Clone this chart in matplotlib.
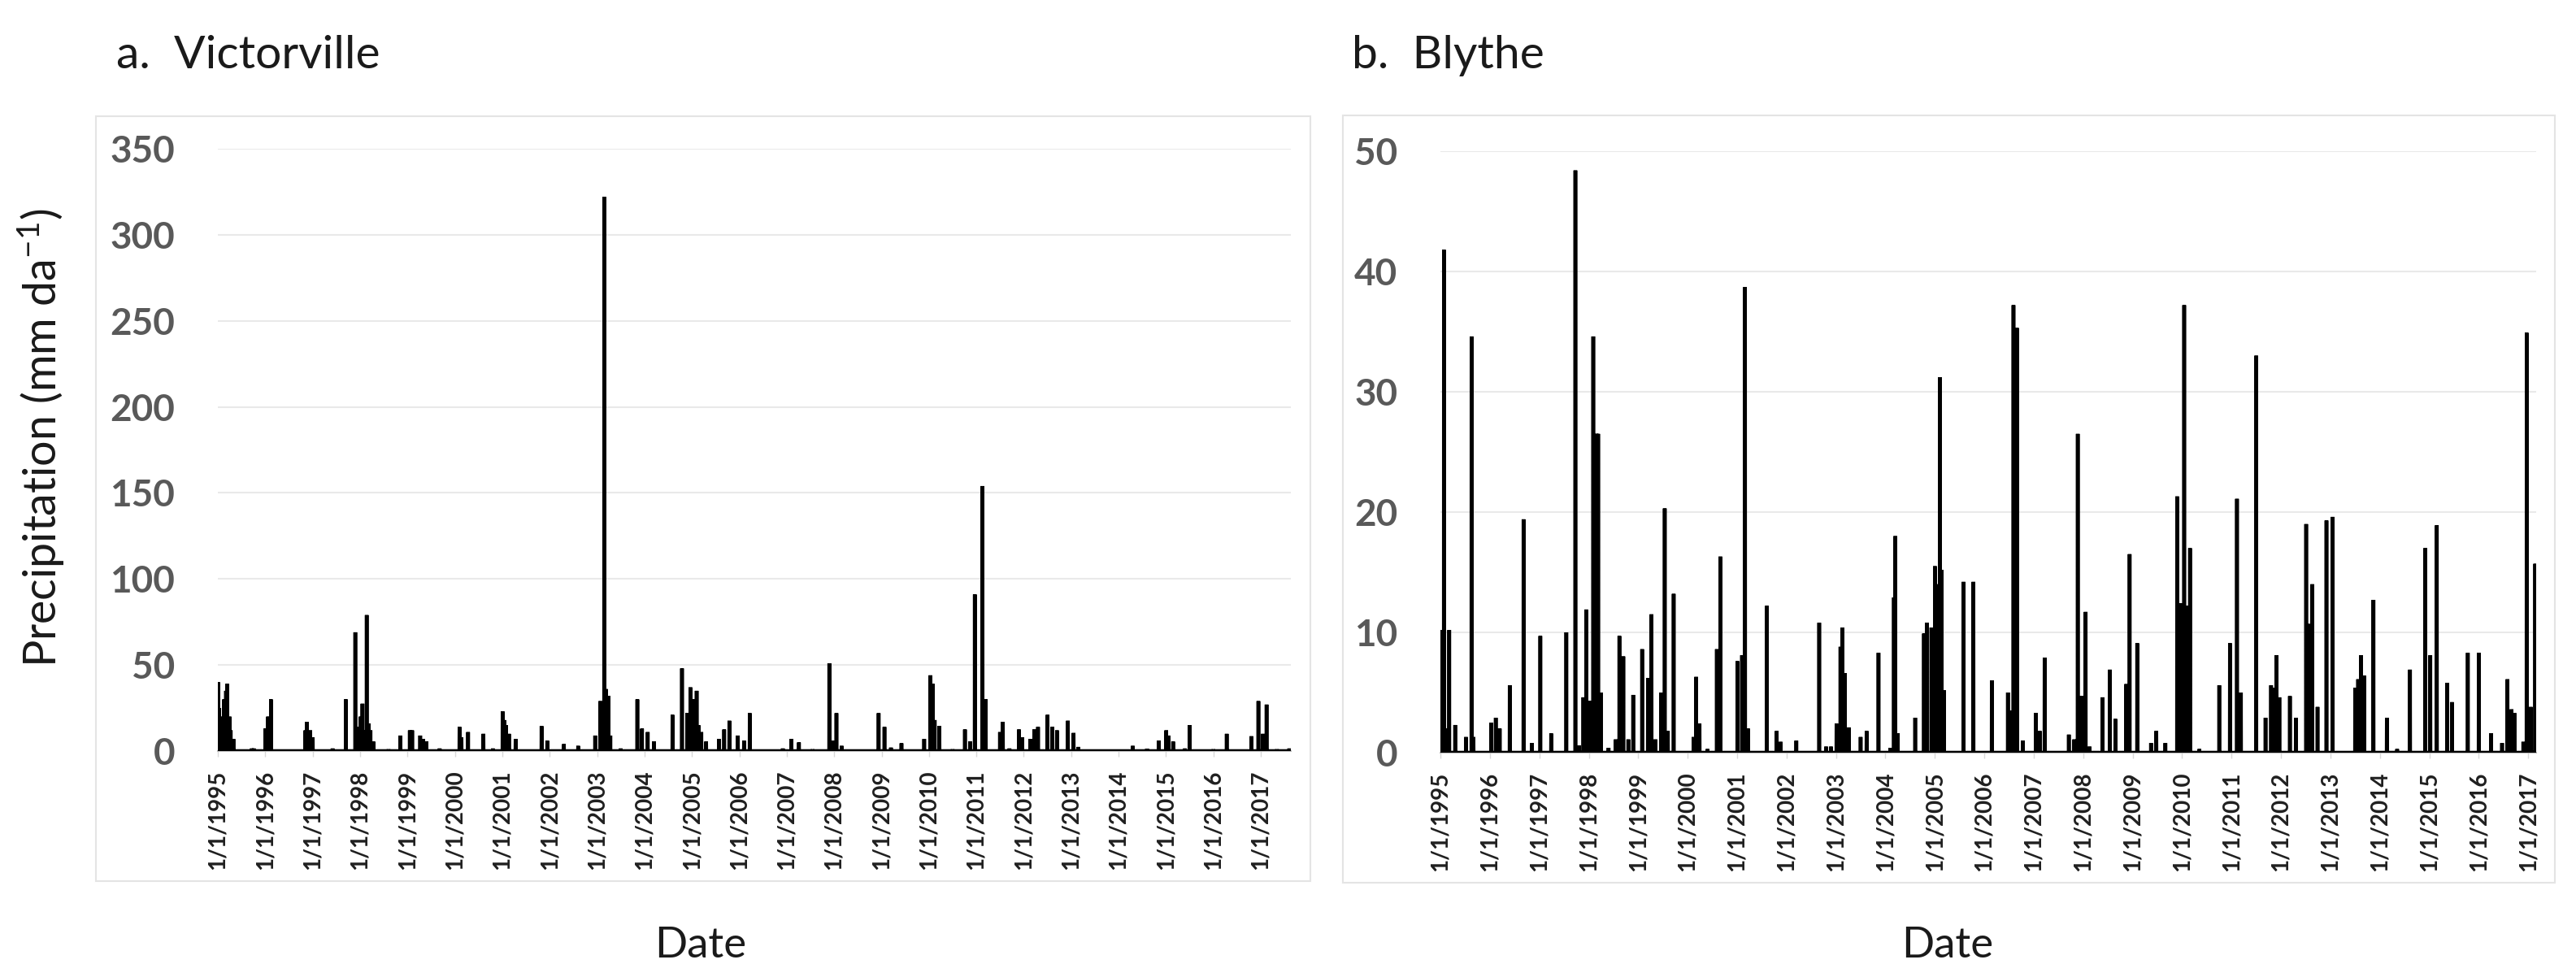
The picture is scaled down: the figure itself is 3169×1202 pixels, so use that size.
import pandas as pd
import matplotlib.pyplot as plt
from matplotlib.patches import Rectangle

plt.rcParams['font.family'] = ['Lato', 'DejaVu Sans']
plt.rcParams['mathtext.default'] = 'regular'

# Rain events (date, mm per day); all other days are 0
victorville_dates = [
    '1995-01-03', '1995-01-10', '1995-01-20', '1995-02-05', '1995-02-18', '1995-03-05',
    '1995-03-14', '1995-04-01', '1995-04-10', '1995-05-01',
    '1995-09-20', '1995-10-05', '1996-01-02', '1996-01-23', '1996-02-14', '1996-11-06',
    '1996-11-18', '1996-12-13', '1997-01-01', '1997-06-03', '1997-09-13', '1997-11-25',
    '1997-12-13', '1997-12-25', '1998-01-05', '1998-01-19', '1998-02-05', '1998-02-21',
    '1998-03-07', '1998-03-15', '1998-03-22', '1998-04-13',
    '1998-08-08', '1998-11-07', '1999-01-19', '1999-02-06', '1999-04-09', '1999-05-01',
    '1999-05-27', '1999-09-06', '2000-02-06', '2000-02-21', '2000-04-12', '2000-08-08',
    '2000-10-20', '2001-01-03', '2001-01-15', '2001-01-30', '2001-02-21', '2001-04-13',
    '2001-10-30', '2001-12-13', '2002-04-20', '2002-08-08', '2002-12-17', '2003-01-26',
    '2003-02-10', '2003-02-25', '2003-03-05', '2003-03-11', '2003-03-20', '2003-03-29',
    '2003-04-13', '2003-07-02', '2003-11-07', '2003-12-13',
    '2004-01-26', '2004-03-14', '2004-08-04', '2004-10-16', '2004-11-25', '2004-12-10',
    '2004-12-20', '2005-01-08', '2005-01-20', '2005-02-06', '2005-02-20', '2005-03-14',
    '2005-04-20', '2005-07-28', '2005-09-06', '2005-10-16',
    '2005-12-20', '2006-02-06', '2006-03-22', '2006-12-02', '2007-02-06', '2007-04-05',
    '2007-07-19', '2007-11-25', '2007-12-20', '2008-01-19', '2008-02-28', '2008-12-09',
    '2009-01-23', '2009-03-14', '2009-06-03', '2009-11-25', '2010-01-12', '2010-01-30',
    '2010-02-14', '2010-03-22', '2010-07-02', '2010-10-05', '2010-11-14', '2010-12-20',
    '2011-02-17', '2011-03-14', '2011-07-02', '2011-07-24', '2011-09-13', '2011-11-25',
    '2011-12-20', '2012-02-21', '2012-03-22', '2012-04-20', '2012-07-02', '2012-08-08',
    '2012-09-13', '2012-12-06', '2013-01-19', '2013-02-25', '2014-04-20', '2014-08-08',
    '2014-11-07', '2015-01-03', '2015-01-20', '2015-02-25', '2015-05-27', '2015-07-02',
    '2016-01-01', '2016-04-13', '2016-10-20', '2016-12-13', '2017-01-16', '2017-02-14',
    '2017-05-05', '2017-08-08',
]
victorville_precip = [
    40, 25, 18, 20, 30, 35,
    39, 20, 12, 7,
    1.5, 1.5, 13, 20, 30, 12,
    17, 12, 8, 1.5, 30, 69,
    12, 14, 20, 27.5, 12, 79,
    16, 10, 12, 5.5,
    1, 9, 12, 12, 9, 7,
    5.5, 1.5, 14, 8, 11, 10,
    1.5, 23, 18, 15, 10, 7,
    14.5, 6, 4, 3, 9, 29,
    25, 322, 30, 36, 20, 32,
    9, 1.5, 30, 13,
    11, 5.5, 21, 48, 22, 20,
    37, 30, 25, 35, 15, 11,
    5.5, 7, 12.5, 17.6,
    9, 6, 22, 1.5, 7, 5,
    1, 51, 6, 22, 3, 22,
    14, 2, 4.5, 7, 44, 39,
    18, 14.5, 1, 12.5, 5.5, 91,
    154, 30, 11, 17, 1.5, 12.5,
    8, 7, 12.5, 14, 21, 14,
    12, 17.6, 10.5, 2.4, 3, 1.3,
    6, 12, 9, 5.5, 1.5, 15,
    1, 10, 8.6, 29, 10, 27,
    1, 1.5,
]

blythe_dates = [
    '1995-01-02', '1995-01-09', '1995-01-27', '1995-02-14', '1995-03-07', '1995-04-20',
    '1995-07-09', '1995-08-19', '1995-09-02', '1996-01-12', '1996-02-14', '1996-03-14',
    '1996-05-27', '1996-09-06', '1996-11-07', '1997-01-08', '1997-03-29', '1997-07-19',
    '1997-09-24', '1997-10-20', '1997-11-22', '1997-12-13', '1998-01-08', '1998-02-03',
    '1998-02-28', '1998-03-11', '1998-04-01', '1998-05-27', '1998-07-19', '1998-08-15',
    '1998-09-13', '1998-10-20', '1998-11-25', '1999-01-30', '1999-03-14', '1999-04-09',
    '1999-05-08', '1999-06-21', '1999-07-16', '1999-08-08', '1999-09-20', '2000-02-14',
    '2000-03-04', '2000-03-29', '2000-05-27', '2000-08-04', '2000-08-30', '2001-01-03',
    '2001-02-06', '2001-02-28', '2001-03-22', '2001-08-08', '2001-10-20', '2001-11-18',
    '2002-03-14', '2002-08-30', '2002-10-20', '2002-11-25', '2003-01-05', '2003-02-03',
    '2003-02-18', '2003-03-07', '2003-04-05', '2003-07-02', '2003-08-15', '2003-11-11',
    '2004-02-06', '2004-03-04', '2004-03-14', '2004-04-01', '2004-08-08', '2004-10-12',
    '2004-11-03', '2004-12-06', '2005-01-01', '2005-01-19', '2005-02-06', '2005-02-17',
    '2005-03-07', '2005-07-31', '2005-10-12', '2006-02-25', '2006-06-24', '2006-07-19',
    '2006-08-04', '2006-08-30', '2006-10-12', '2007-01-16', '2007-02-14', '2007-03-22',
    '2007-09-17', '2007-10-27', '2007-11-22', '2007-12-20', '2008-01-19', '2008-02-17',
    '2008-05-23', '2008-07-16', '2008-08-26', '2008-11-14', '2008-12-09', '2009-02-03',
    '2009-05-16', '2009-06-24', '2009-08-30', '2009-11-25', '2009-12-24', '2010-01-16',
    '2010-02-06', '2010-02-28', '2010-05-08', '2010-10-02', '2010-12-20', '2011-02-10',
    '2011-03-11', '2011-07-02', '2011-09-09', '2011-10-20', '2011-11-11', '2011-11-29',
    '2011-12-20', '2012-03-07', '2012-04-20', '2012-07-05', '2012-07-27', '2012-08-19',
    '2012-09-27', '2012-12-02', '2013-01-16', '2013-07-02', '2013-07-24', '2013-08-15',
    '2013-09-06', '2013-11-14', '2014-02-21', '2014-05-08', '2014-08-11', '2014-12-02',
    '2015-01-08', '2015-02-25', '2015-05-12', '2015-06-17', '2015-10-12', '2016-01-01',
    '2016-04-01', '2016-06-21', '2016-07-31', '2016-08-30', '2016-09-20', '2016-11-25',
    '2016-12-20', '2017-01-19', '2017-02-21',
]
blythe_precip = [
    10.2, 10.2, 41.8, 2, 10.2, 2.3,
    1.3, 34.6, 1.3, 2.5, 2.9, 2,
    5.6, 19.4, 0.8, 9.7, 1.6, 10,
    48.4, 0.6, 4.6, 11.9, 4.3, 34.6,
    26.5, 26.5, 5, 0.4, 1.1, 9.7,
    8, 1.1, 4.8, 8.6, 6.2, 11.5,
    1.1, 5, 20.3, 1.8, 13.2, 1.3,
    6.3, 2.4, 0.3, 8.6, 16.3, 7.6,
    8.1, 38.7, 2, 12.2, 1.8, 0.9,
    1, 10.8, 0.5, 0.5, 2.4, 8.8,
    10.4, 6.6, 2.1, 1.3, 1.8, 8.3,
    0.4, 12.9, 18, 1.6, 2.9, 9.9,
    10.8, 10.4, 15.5, 14, 31.2, 15.2,
    5.2, 14.2, 14.2, 6, 5, 3.5,
    37.2, 35.3, 1, 3.3, 1.8, 7.9,
    1.5, 1.1, 26.5, 4.7, 11.7, 0.5,
    4.6, 6.9, 2.8, 5.7, 16.5, 9.1,
    0.8, 1.8, 0.8, 21.3, 12.4, 37.2,
    12.2, 17, 0.3, 5.6, 9.1, 21.1,
    5, 33, 2.9, 5.6, 5.4, 8.1,
    4.6, 4.7, 2.9, 19, 10.7, 14,
    3.8, 19.3, 19.6, 5.4, 6.1, 8.1,
    6.4, 12.7, 2.9, 0.3, 6.9, 17,
    8.1, 18.9, 5.8, 4.2, 8.3, 8.3,
    1.6, 0.8, 6.1, 3.6, 3.3, 0.9,
    34.9, 3.8, 15.7,
]

tick_years = list(range(1995, 2018))
tick_labels = [f'1/1/{y}' for y in tick_years]


def daily_series(dates, values, end):
    days = pd.date_range('1995-01-01', end, freq='D')
    s = pd.Series(0.0, index=days)
    s[pd.to_datetime(dates)] = values
    return s


W, H = 3169, 1202
fig = plt.figure(figsize=(W / 100, H / 100), dpi=100)


def px_rect(x0, y0, x1, y1):
    return [x0 / W, 1 - y1 / H, (x1 - x0) / W, (y1 - y0) / H]


panels = [
    dict(rect=px_rect(268, 183, 1588, 924), frame=(118, 143, 1612, 1084),
         series=daily_series(victorville_dates, victorville_precip, '2017-08-20'),
         ymax=350, ystep=50, title='a.  Victorville', title_x=143, date_x=862),
    dict(rect=px_rect(1772, 186, 3120, 926), frame=(1652, 142, 3143, 1086),
         series=daily_series(blythe_dates, blythe_precip, '2017-02-28'),
         ymax=50, ystep=10, title='b.  Blythe', title_x=1663, date_x=2396),
]

for p in panels:
    fx0, fy0, fx1, fy1 = p['frame']
    fig.patches.append(Rectangle((fx0 / W, 1 - fy1 / H), (fx1 - fx0) / W, (fy1 - fy0) / H,
                                 transform=fig.transFigure, fill=False,
                                 edgecolor='#e4e4e4', linewidth=1.5))

    ax = fig.add_axes(p['rect'])
    s = p['series']
    ax.plot(s.index, s.values, color='black', linewidth=3.3, solid_joinstyle='miter', zorder=3)

    ax.set_xlim(s.index[0], s.index[-1])
    ax.set_ylim(0, p['ymax'])
    ax.set_yticks(range(0, p['ymax'] + 1, p['ystep']))
    ax.set_xticks([pd.Timestamp(f'{y}-01-01') for y in tick_years])
    ax.set_xticklabels(tick_labels, rotation=90)

    ax.grid(axis='y', color='#e9e9e9', linewidth=1.5)
    ax.set_axisbelow(True)
    for side in ['top', 'right', 'left']:
        ax.spines[side].set_visible(False)
    ax.spines['bottom'].set_color('#bfbfbf')
    ax.spines['bottom'].set_linewidth(1.5)

    ax.tick_params(axis='y', length=0, pad=38, labelsize=33, labelcolor='#595959')
    ax.tick_params(axis='x', length=5, width=1, color='#d9d9d9', pad=12,
                   labelsize=20, labelcolor='#1f1f1f')
    for lab in ax.get_yticklabels() + ax.get_xticklabels():
        lab.set_fontweight('bold')

    fig.text(p['title_x'] / W, 1 - 69 / H, p['title'], fontsize=41, va='center',
             ha='left', color='#1a1a1a')
    fig.text(p['date_x'] / W, 1 - 1164 / H, 'Date', fontsize=38, va='center',
             ha='center', color='#1a1a1a')

fig.text(51 / W, 1 - 539 / H, 'Precipitation (mm da$^{-1}$)', fontsize=40,
         rotation=90, va='center', ha='center', color='#1a1a1a')

plt.savefig('out.png', dpi=100)
